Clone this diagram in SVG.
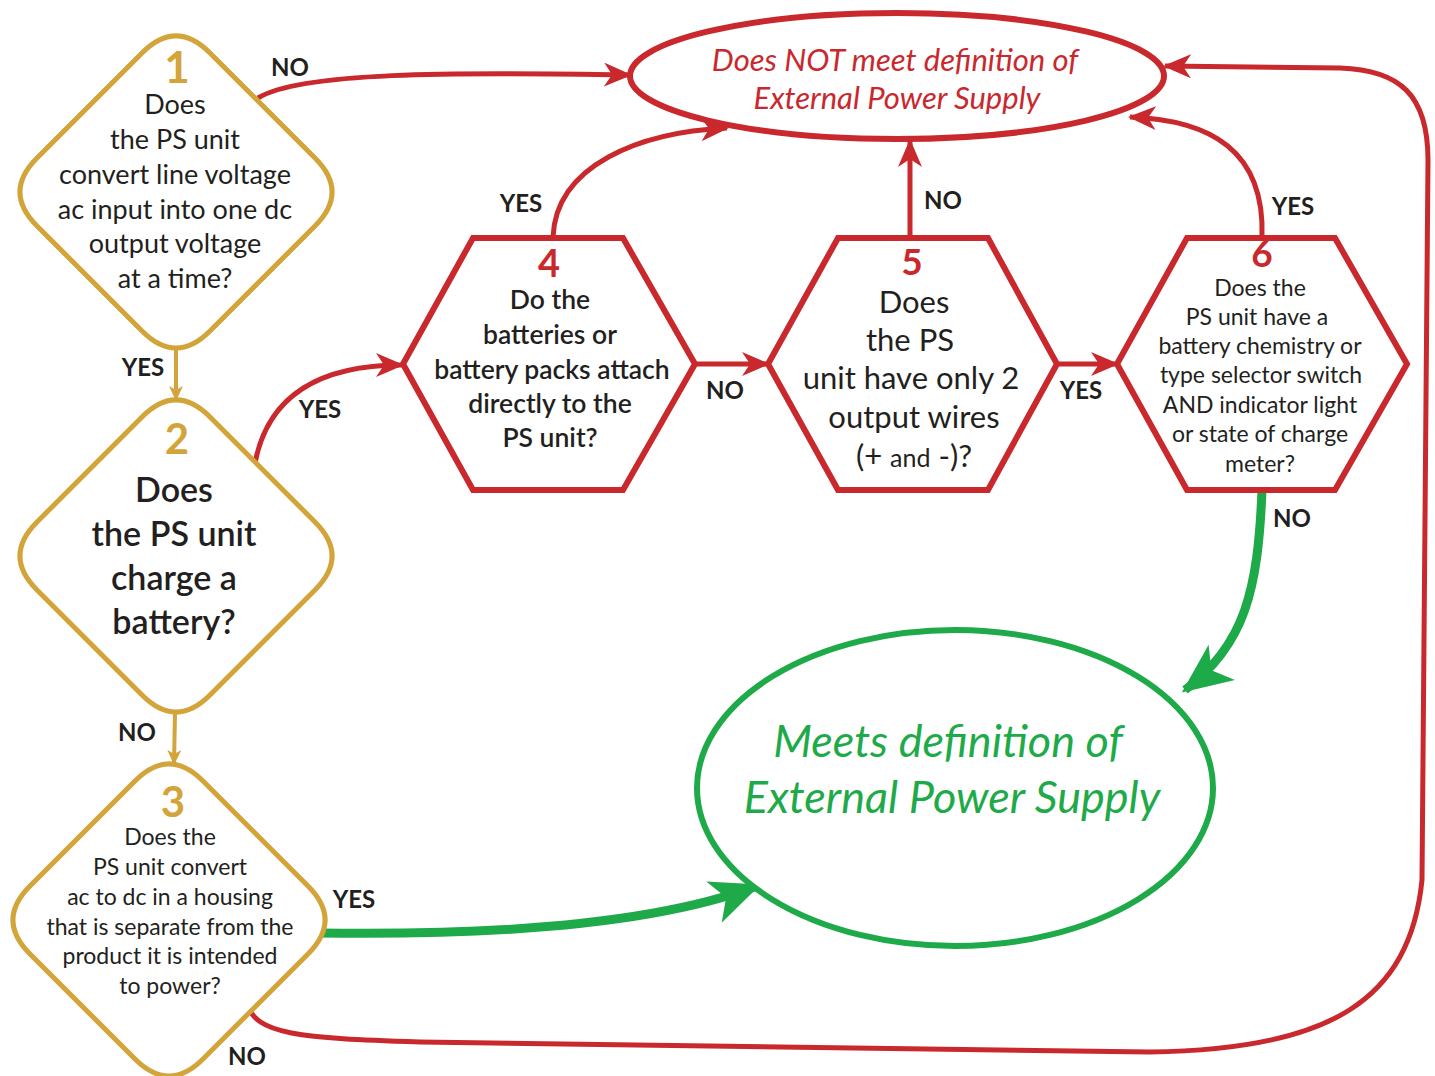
<svg xmlns="http://www.w3.org/2000/svg" width="1435" height="1076" viewBox="0 0 1435 1076">
<style>
.gold{fill:#fff;stroke:#D3A43A;stroke-width:5}
.hex{fill:#fff;stroke:#C9282D;stroke-width:6;stroke-linejoin:miter}
.t{font-family:Lato,"Open Sans","Liberation Sans",sans-serif;fill:#231F20;text-anchor:middle}
.lbl{font-family:Lato,"Open Sans","Liberation Sans",sans-serif;fill:#231F20;text-anchor:middle;font-weight:700;font-size:24px}
.numg{font-family:Lato,"Open Sans","Liberation Sans",sans-serif;fill:#D3A43A;text-anchor:middle;font-weight:700}
.numr{font-family:Lato,"Open Sans","Liberation Sans",sans-serif;fill:#C9282D;text-anchor:middle;font-weight:700}
.red{fill:none;stroke:#C9282D;stroke-width:5}
.grn{fill:none;stroke:#1FAA4A;stroke-width:9}
.gl{fill:none;stroke:#D3A43A;stroke-width:4}
</style>
<defs>
<marker id="ar" markerUnits="userSpaceOnUse" markerWidth="30" markerHeight="26" refX="26" refY="12" orient="auto">
<path d="M0,0 L28,12 L0,24 L8,12 Z" fill="#C9282D"/>
</marker>
<marker id="ag" markerUnits="userSpaceOnUse" markerWidth="52" markerHeight="48" refX="46" refY="22" orient="auto">
<path d="M0,0 L50,22 L0,44 L13,22 Z" fill="#1FAA4A"/>
</marker>
<marker id="ay" markerUnits="userSpaceOnUse" markerWidth="16" markerHeight="14" refX="14" refY="7" orient="auto">
<path d="M0,0 L15,7 L0,14 L4,7 Z" fill="#D3A43A"/>
</marker>
</defs>
<rect width="1435" height="1076" fill="#fff"/>
<g id="connectors">
<path class="gl" d="M176,348 L176,400" marker-end="url(#ay)"/>
<path class="gl" d="M175,713 L174,764" marker-end="url(#ay)"/>
<path class="red" d="M258,98 C300,72 450,72 630,75" marker-end="url(#ar)"/>
<path class="red" d="M255,463 C268,395 320,365 402,365" marker-end="url(#ar)"/>
<path class="red" d="M553,237 C556,165 640,132 727,128" marker-end="url(#ar)"/>
<path class="red" d="M695,364 L768,364" marker-end="url(#ar)"/>
<path class="red" d="M910,237 L910,141" marker-end="url(#ar)"/>
<path class="red" d="M1057,364 L1117,364" marker-end="url(#ar)"/>
<path class="red" d="M1262,237 C1265,150 1210,120 1130,117" marker-end="url(#ar)"/>
<path class="red" d="M247,1003 C255,1035 300,1038 420,1042 L1150,1052 C1330,1050 1410,1000 1422,880 L1428,160 C1428,95 1400,70 1340,68 L1165,66" marker-end="url(#ar)"/>
<path class="grn" d="M1262,490 C1258,590 1245,645 1185,690" marker-end="url(#ag)"/>
<path class="grn" d="M318,933 C450,935 640,930 757,886" marker-end="url(#ag)"/>
</g>
<g id="labels">
<text class="lbl" x="290" y="76">NO</text>
<text class="lbl" x="143" y="376">YES</text>
<text class="lbl" x="320" y="418">YES</text>
<text class="lbl" x="137" y="741">NO</text>
<text class="lbl" x="354" y="908">YES</text>
<text class="lbl" x="247" y="1065">NO</text>
<text class="lbl" x="521" y="212">YES</text>
<text class="lbl" x="725" y="399">NO</text>
<text class="lbl" x="943" y="209">NO</text>
<text class="lbl" x="1081" y="399">YES</text>
<text class="lbl" x="1293" y="215">YES</text>
<text class="lbl" x="1292" y="527">NO</text>
</g>
<g id="not-meets">
<ellipse cx="897" cy="76" rx="267" ry="63" fill="#fff" stroke="#C9282D" stroke-width="6"/>
<text class="t" x="895" y="71" font-size="31" font-style="italic" style="fill:#C9282D">Does NOT meet definition of</text>
<text class="t" x="897" y="109" font-size="31" font-style="italic" style="fill:#C9282D">External Power Supply</text>
</g>
<g id="meets">
<ellipse cx="955" cy="788" rx="258" ry="158" fill="#fff" stroke="#1FAA4A" stroke-width="6"/>
<text class="t" x="948" y="757" font-size="45" font-style="italic" style="fill:#1FAA4A">Meets definition of</text>
<text class="t" x="952" y="813" font-size="45" font-style="italic" style="fill:#1FAA4A">External Power Supply</text>
</g>
<g id="q1">
<path class="gold" transform="translate(176,192)" d="M-34,-139 Q0,-173 34,-139 L139,-34 Q173,0 139,34 L34,139 Q0,173 -34,139 L-139,34 Q-173,0 -139,-34 Z"/>
<text class="numg" x="177" y="83" font-size="44">1</text>
<text class="t" font-size="27"><tspan x="175" y="114">Does</tspan><tspan x="175" y="149">the PS unit</tspan><tspan x="175" y="184">convert line voltage</tspan><tspan x="175" y="219">ac input into one dc</tspan><tspan x="175" y="253">output voltage</tspan><tspan x="175" y="288">at a time?</tspan></text>
</g>
<g id="q2">
<path class="gold" transform="translate(176,556)" d="M-34,-139 Q0,-173 34,-139 L139,-34 Q173,0 139,34 L34,139 Q0,173 -34,139 L-139,34 Q-173,0 -139,-34 Z"/>
<text class="numg" x="177" y="454" font-size="42">2</text>
<text class="t" font-size="34" font-weight="600"><tspan x="174" y="502">Does</tspan><tspan x="174" y="546">the PS unit</tspan><tspan x="174" y="590">charge a</tspan><tspan x="174" y="634">battery?</tspan></text>
</g>
<g id="q3">
<path class="gold" transform="translate(169,920)" d="M-34,-139 Q0,-173 34,-139 L139,-34 Q173,0 139,34 L34,139 Q0,173 -34,139 L-139,34 Q-173,0 -139,-34 Z"/>
<text class="numg" x="173" y="817" font-size="42">3</text>
<text class="t" font-size="23"><tspan x="170" y="845">Does the</tspan><tspan x="170" y="875">PS unit convert</tspan><tspan x="170" y="905">ac to dc in a housing</tspan><tspan x="170" y="935">that is separate from the</tspan><tspan x="170" y="964">product it is intended</tspan><tspan x="170" y="994">to power?</tspan></text>
</g>
<g id="q4">
<path class="hex" d="M473,238 L623,238 L695,364 L623,490 L473,490 L403,364 Z"/>
<text class="numr" x="549" y="277" font-size="38">4</text>
<text class="t" font-size="26.5" font-weight="600"><tspan x="550" y="309">Do the</tspan><tspan x="550" y="344">batteries or</tspan><tspan x="552" y="379">battery packs attach</tspan><tspan x="550" y="413">directly to the</tspan><tspan x="550" y="447">PS unit?</tspan></text>
</g>
<g id="q5">
<path class="hex" d="M838,238 L988,238 L1057,364 L988,490 L838,490 L768,364 Z"/>
<text class="numr" x="912" y="275" font-size="37">5</text>
<text class="t" font-size="31"><tspan x="914" y="313">Does</tspan><tspan x="910" y="351">the PS</tspan><tspan x="911" y="389">unit have only 2</tspan><tspan x="914" y="428">output wires</tspan><tspan x="914" y="467">(+ <tspan font-size="25">and</tspan> -)?</tspan></text>
</g>
<g id="q6">
<path class="hex" d="M1187,238 L1335,238 L1407,364 L1335,490 L1187,490 L1117,364 Z"/>
<text class="numr" x="1262" y="267" font-size="37">6</text>
<text class="t" font-size="23"><tspan x="1260" y="296">Does the</tspan><tspan x="1257" y="325">PS unit have a</tspan><tspan x="1260" y="354">battery chemistry or</tspan><tspan x="1261" y="383">type selector switch</tspan><tspan x="1260" y="413">AND indicator light</tspan><tspan x="1260" y="442">or state of charge</tspan><tspan x="1260" y="472">meter?</tspan></text>
</g>
</svg>
